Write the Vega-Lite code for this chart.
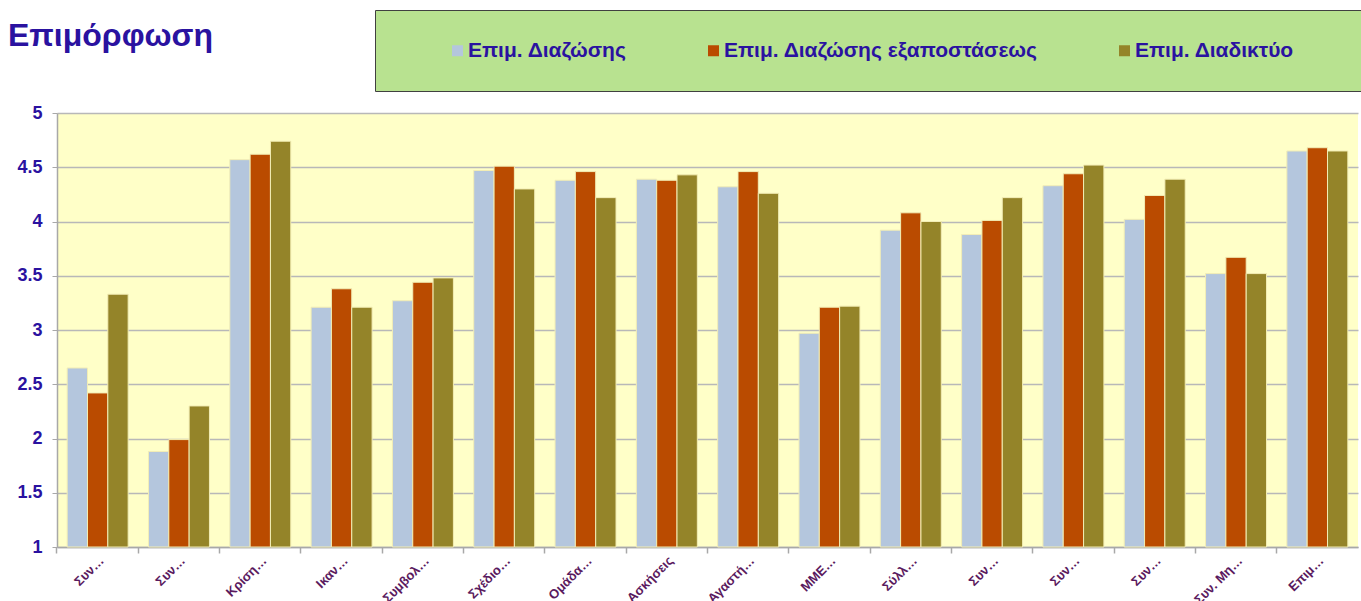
{
  "$schema": "https://vega.github.io/schema/vega-lite/v6.json",
  "width": 1301,
  "height": 434,
  "autosize": {"type": "none"},
  "padding": {"left": 57, "top": 113, "right": 3, "bottom": 54},
  "background": "white",
  "title": {"text": "Επιμόρφωση", "anchor": "start", "frame": "group", "fontSize": 32, "fontWeight": "bold", "color": "#2A12A0", "font": "Liberation Sans", "dx": -49, "dy": 43, "offset": 0},
  "data": {"values": [
    {"cat": "01|Συν…", "series": "Επιμ. Διαζώσης", "value": 2.65},
    {"cat": "01|Συν…", "series": "Επιμ. Διαζώσης εξαποστάσεως", "value": 2.42},
    {"cat": "01|Συν…", "series": "Επιμ. Διαδικτύο", "value": 3.33},
    {"cat": "02|Συν…", "series": "Επιμ. Διαζώσης", "value": 1.88},
    {"cat": "02|Συν…", "series": "Επιμ. Διαζώσης εξαποστάσεως", "value": 1.99},
    {"cat": "02|Συν…", "series": "Επιμ. Διαδικτύο", "value": 2.30},
    {"cat": "03|Κρίση…", "series": "Επιμ. Διαζώσης", "value": 4.57},
    {"cat": "03|Κρίση…", "series": "Επιμ. Διαζώσης εξαποστάσεως", "value": 4.62},
    {"cat": "03|Κρίση…", "series": "Επιμ. Διαδικτύο", "value": 4.74},
    {"cat": "04|Ικαν…", "series": "Επιμ. Διαζώσης", "value": 3.21},
    {"cat": "04|Ικαν…", "series": "Επιμ. Διαζώσης εξαποστάσεως", "value": 3.38},
    {"cat": "04|Ικαν…", "series": "Επιμ. Διαδικτύο", "value": 3.21},
    {"cat": "05|Συμβολ…", "series": "Επιμ. Διαζώσης", "value": 3.27},
    {"cat": "05|Συμβολ…", "series": "Επιμ. Διαζώσης εξαποστάσεως", "value": 3.44},
    {"cat": "05|Συμβολ…", "series": "Επιμ. Διαδικτύο", "value": 3.48},
    {"cat": "06|Σχέδιο…", "series": "Επιμ. Διαζώσης", "value": 4.47},
    {"cat": "06|Σχέδιο…", "series": "Επιμ. Διαζώσης εξαποστάσεως", "value": 4.51},
    {"cat": "06|Σχέδιο…", "series": "Επιμ. Διαδικτύο", "value": 4.30},
    {"cat": "07|Ομάδα…", "series": "Επιμ. Διαζώσης", "value": 4.38},
    {"cat": "07|Ομάδα…", "series": "Επιμ. Διαζώσης εξαποστάσεως", "value": 4.46},
    {"cat": "07|Ομάδα…", "series": "Επιμ. Διαδικτύο", "value": 4.22},
    {"cat": "08|Ασκήσεις", "series": "Επιμ. Διαζώσης", "value": 4.39},
    {"cat": "08|Ασκήσεις", "series": "Επιμ. Διαζώσης εξαποστάσεως", "value": 4.38},
    {"cat": "08|Ασκήσεις", "series": "Επιμ. Διαδικτύο", "value": 4.43},
    {"cat": "09|Αγαστή…", "series": "Επιμ. Διαζώσης", "value": 4.32},
    {"cat": "09|Αγαστή…", "series": "Επιμ. Διαζώσης εξαποστάσεως", "value": 4.46},
    {"cat": "09|Αγαστή…", "series": "Επιμ. Διαδικτύο", "value": 4.26},
    {"cat": "10|ΜΜΕ…", "series": "Επιμ. Διαζώσης", "value": 2.97},
    {"cat": "10|ΜΜΕ…", "series": "Επιμ. Διαζώσης εξαποστάσεως", "value": 3.21},
    {"cat": "10|ΜΜΕ…", "series": "Επιμ. Διαδικτύο", "value": 3.22},
    {"cat": "11|Σύλλ…", "series": "Επιμ. Διαζώσης", "value": 3.92},
    {"cat": "11|Σύλλ…", "series": "Επιμ. Διαζώσης εξαποστάσεως", "value": 4.08},
    {"cat": "11|Σύλλ…", "series": "Επιμ. Διαδικτύο", "value": 4.00},
    {"cat": "12|Συν…", "series": "Επιμ. Διαζώσης", "value": 3.88},
    {"cat": "12|Συν…", "series": "Επιμ. Διαζώσης εξαποστάσεως", "value": 4.01},
    {"cat": "12|Συν…", "series": "Επιμ. Διαδικτύο", "value": 4.22},
    {"cat": "13|Συν…", "series": "Επιμ. Διαζώσης", "value": 4.33},
    {"cat": "13|Συν…", "series": "Επιμ. Διαζώσης εξαποστάσεως", "value": 4.44},
    {"cat": "13|Συν…", "series": "Επιμ. Διαδικτύο", "value": 4.52},
    {"cat": "14|Συν…", "series": "Επιμ. Διαζώσης", "value": 4.02},
    {"cat": "14|Συν…", "series": "Επιμ. Διαζώσης εξαποστάσεως", "value": 4.24},
    {"cat": "14|Συν…", "series": "Επιμ. Διαδικτύο", "value": 4.39},
    {"cat": "15|Συν. Μη…", "series": "Επιμ. Διαζώσης", "value": 3.52},
    {"cat": "15|Συν. Μη…", "series": "Επιμ. Διαζώσης εξαποστάσεως", "value": 3.67},
    {"cat": "15|Συν. Μη…", "series": "Επιμ. Διαδικτύο", "value": 3.52},
    {"cat": "16|Επιμ…", "series": "Επιμ. Διαζώσης", "value": 4.65},
    {"cat": "16|Επιμ…", "series": "Επιμ. Διαζώσης εξαποστάσεως", "value": 4.68},
    {"cat": "16|Επιμ…", "series": "Επιμ. Διαδικτύο", "value": 4.65}
  ]},
  "layer": [
    {
      "mark": {"type": "bar", "stroke": "#F2EDB5", "strokeWidth": 1},
      "encoding": {
        "x": {"field": "cat", "type": "nominal",
          "scale": {"paddingInner": 0.25, "paddingOuter": 0.125},
          "axis": {"title": null, "labelExpr": "split(datum.label, '|')[1]", "labelAngle": -45, "labelAlign": "right", "labelBaseline": "top", "labelFontSize": 13, "labelFontWeight": "bold", "labelColor": "#5A1A5E", "labelFont": "Liberation Sans", "ticks": false, "domainColor": "#A8A8A8", "domainWidth": 1.5, "labelPadding": 7, "grid": false}},
        "xOffset": {"field": "series", "type": "nominal", "sort": ["Επιμ. Διαζώσης", "Επιμ. Διαζώσης εξαποστάσεως", "Επιμ. Διαδικτύο"], "scale": {"paddingInner": 0, "paddingOuter": 0}},
        "y": {"field": "value", "type": "quantitative",
          "scale": {"domain": [1, 5], "nice": false, "zero": false},
          "axis": {"title": null, "values": [1, 1.5, 2, 2.5, 3, 3.5, 4, 4.5, 5], "format": "~g", "labelFontSize": 18, "labelFontWeight": "bold", "labelColor": "#2A12A0", "labelFont": "Liberation Sans", "labelPadding": 10, "tickColor": "#A8A8A8", "tickSize": 5, "domainColor": "#A8A8A8", "domainWidth": 1.5, "gridColor": "#B8B8B8", "gridWidth": 1.5}},
        "y2": {"datum": 1},
        "color": {"field": "series", "type": "nominal",
          "scale": {"domain": ["Επιμ. Διαζώσης", "Επιμ. Διαζώσης εξαποστάσεως", "Επιμ. Διαδικτύο"], "range": ["#B4C6DD", "#BA4B00", "#948429"]},
          "legend": {"orient": "none", "legendX": 318, "legendY": -103, "direction": "horizontal", "title": " ", "titleOrient": "left", "titlePadding": 42, "titleFontSize": 19, "padding": 30, "fillColor": "#B8E290", "strokeColor": "#404040", "labelFontSize": 21, "labelFontWeight": "bold", "labelColor": "#2A12A0", "labelFont": "Liberation Sans", "symbolType": "square", "symbolSize": 121, "symbolStrokeWidth": 0, "labelOffset": 0, "columnPadding": 76, "labelLimit": 600,
            "labelExpr": "datum.label == 'Επιμ. Διαδικτύο' ? datum.label + '\u2800\u2800\u2800' : datum.label"}
        }
      }
    },
    {
      "mark": {"type": "rule", "opacity": 0},
      "encoding": {
        "x": {"field": "cat", "type": "nominal",
          "axis": {"title": null, "orient": "bottom", "labels": false, "ticks": true, "bandPosition": -0.1667, "tickColor": "#A8A8A8", "tickSize": 6, "tickWidth": 1.5, "domain": false, "grid": false}}
      }
    }
  ],
  "resolve": {"axis": {"x": "independent"}},
  "config": {"view": {"fill": "#FFFFC8", "stroke": null}, "font": "Liberation Sans"}
}
